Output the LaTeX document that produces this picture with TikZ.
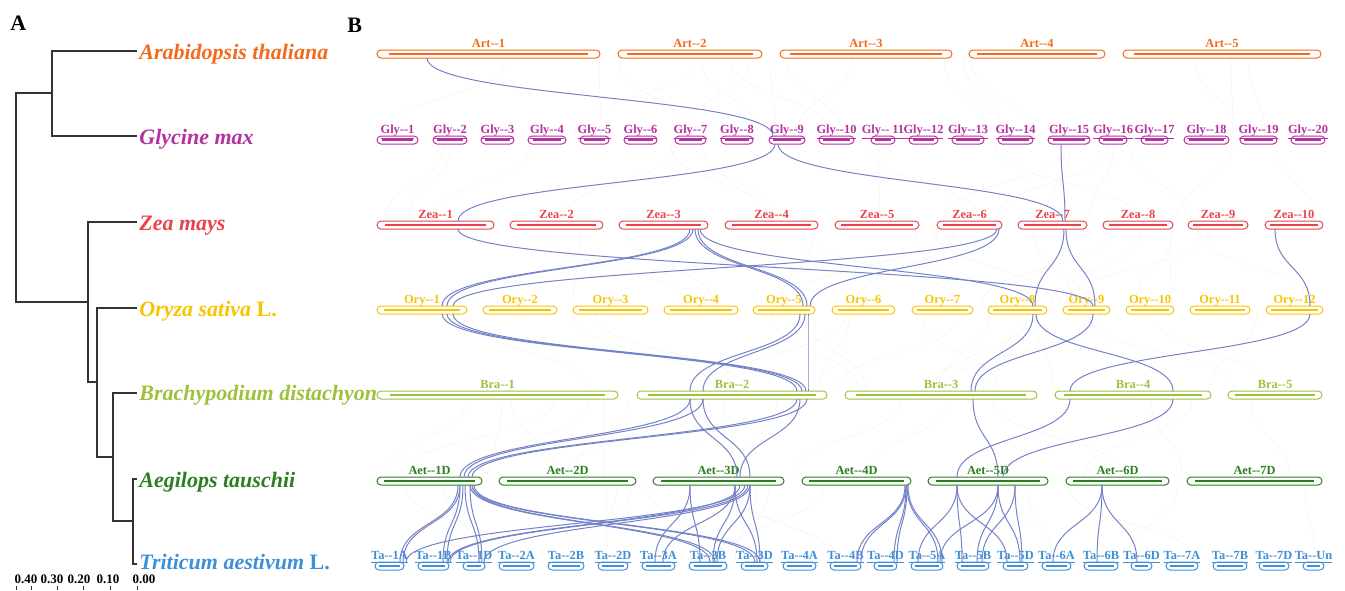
\documentclass[tikz,border=0pt]{standalone}
\usepackage{fontspec}
\setmainfont{Liberation Serif}
\usetikzlibrary{calc,backgrounds}
\definecolor{cart}{HTML}{F26A1B}
\definecolor{cgly}{HTML}{B5319E}
\definecolor{czea}{HTML}{E8424C}
\definecolor{cory}{HTML}{F7C400}
\definecolor{cbra}{HTML}{9CC23D}
\definecolor{caet}{HTML}{2A7F1F}
\definecolor{cta}{HTML}{3D8FD8}
\definecolor{clink}{HTML}{7482C8}
\newcommand\dd{-\kern0pt-}
\newcommand\chr[6]{%
 \pgfmathsetmacro\cw{(#3-#2)*0.5}%
 \pgfmathsetmacro\ci{(3+0.04*(#3-#2))*0.5}%
 \pgfmathsetmacro\cx{(#2+#3)/2}%
 \node[capsule, draw=#5, minimum width=\cw pt] (#1) at (\cx,#4) {};
 \draw[core, draw=#5] ([xshift=\ci pt]#1.west) -- ([xshift=-\ci pt]#1.east);
 \node[chrlab, text=#5] (#1l) at ([yshift=1.5pt]#1.north) {#6};
}
\newcommand\syn[4]{\draw[link] (#2,0 |- #1.south) .. controls +(0,40) and +(0,-40) .. (#4,0 |- #3.north);}
\tikzset{
 capsule/.style={rectangle, rounded corners=2pt, minimum height=4pt, inner sep=0pt, outer sep=0pt, line width=0.5pt},
 core/.style={line width=1.15pt},
 chrlab/.style={anchor=base, inner sep=0pt, font=\fontsize{6.2}{7}\selectfont\bfseries},
 link/.style={line width=0.5pt, draw=clink},
 faint/.style={line width=0.3pt, draw=black!4},
 tree/.style={draw=black!80, line width=0.7pt},
 sp/.style={anchor=base west, inner sep=0pt, font=\fontsize{11}{13}\selectfont\bfseries\itshape},
 panel/.style={anchor=base west, inner sep=0pt, font=\fontsize{11}{13}\selectfont\bfseries},
 scl/.style={anchor=base, inner sep=0pt, font=\fontsize{6.5}{7}\selectfont\bfseries},
}
\begin{document}
\begin{tikzpicture}[x=0.5pt, y=-0.5pt]
\useasboundingbox (0,0) rectangle (1345,590);
% panel letters
\node[panel] (pA) at (10,30) {A};
\node[panel] (pB) at (347,32) {B};
% tree
\draw[tree] (137,51) -- (52,51) -- (52,136) -- (137,136);
\draw[tree] (52,93) -- (16,93) -- (16,302) -- (88,302);
\draw[tree] (137,222) -- (88,222) -- (88,382) -- (97,382);
\draw[tree] (137,308) -- (97,308) -- (97,457) -- (113,457);
\draw[tree] (137,393) -- (113,393) -- (113,521) -- (133,521);
\draw[tree] (137,479) -- (133,479) -- (133,564) -- (137,564);
\node[sp, text=cart] (sArt) at (139,59) {Arabidopsis thaliana};
\node[sp, text=cgly] (sGly) at (139,144) {Glycine max};
\node[sp, text=czea] (sZea) at (139,230) {Zea mays};
\node[sp, text=cory] (sOry) at (139,316) {Oryza sativa \upshape L.};
\node[sp, text=cbra] (sBra) at (139,400) {Brachypodium distachyon};
\node[sp, text=caet] (sAet) at (139,487) {Aegilops tauschii};
\node[sp, text=cta] (sTa) at (139,569) {Triticum aestivum \upshape L.};
% scale
\node[scl] (s40) at (26,583) {0.40};
\node[scl] (s30) at (52,583) {0.30};
\node[scl] (s20) at (79,583) {0.20};
\node[scl] (s10) at (108,583) {0.10};
\node[scl] (s00) at (144,583) {0.00};
\foreach \t in {16,31,57,83,110,137} \draw[black!80, line width=0.4pt] (\t,586) -- (\t,590);
% chromosomes
\chr{art1}{377}{600}{54}{cart}{Art\dd 1}
\chr{art2}{618}{762}{54}{cart}{Art\dd 2}
\chr{art3}{780}{952}{54}{cart}{Art\dd 3}
\chr{art4}{969}{1105}{54}{cart}{Art\dd 4}
\chr{art5}{1123}{1321}{54}{cart}{Art\dd 5}
\chr{gly1}{377}{418}{140}{cgly}{\underline{Gly\dd 1}}
\chr{gly2}{433}{467}{140}{cgly}{\underline{Gly\dd 2}}
\chr{gly3}{481}{514}{140}{cgly}{\underline{Gly\dd 3}}
\chr{gly4}{528}{566}{140}{cgly}{\underline{Gly\dd 4}}
\chr{gly5}{580}{609}{140}{cgly}{\underline{Gly\dd 5}}
\chr{gly6}{624}{657}{140}{cgly}{\underline{Gly\dd 6}}
\chr{gly7}{675}{706}{140}{cgly}{\underline{Gly\dd 7}}
\chr{gly8}{721}{753}{140}{cgly}{\underline{Gly\dd 8}}
\chr{gly9}{769}{805}{140}{cgly}{\underline{Gly\dd 9}}
\chr{gly10}{819}{854}{140}{cgly}{\underline{Gly\dd 10}}
\chr{gly11}{871}{895}{140}{cgly}{\underline{Gly\dd\ 11}}
\chr{gly12}{909}{938}{140}{cgly}{\underline{Gly\dd 12}}
\chr{gly13}{952}{984}{140}{cgly}{\underline{Gly\dd 13}}
\chr{gly14}{998}{1033}{140}{cgly}{\underline{Gly\dd 14}}
\chr{gly15}{1048}{1090}{140}{cgly}{\underline{Gly\dd 15}}
\chr{gly16}{1099}{1127}{140}{cgly}{\underline{Gly\dd 16}}
\chr{gly17}{1141}{1168}{140}{cgly}{\underline{Gly\dd 17}}
\chr{gly18}{1184}{1229}{140}{cgly}{\underline{Gly\dd 18}}
\chr{gly19}{1240}{1277}{140}{cgly}{\underline{Gly\dd 19}}
\chr{gly20}{1291}{1325}{140}{cgly}{\underline{Gly\dd 20}}
\chr{zea1}{377}{494}{225}{czea}{Zea\dd 1}
\chr{zea2}{510}{603}{225}{czea}{Zea\dd 2}
\chr{zea3}{619}{708}{225}{czea}{Zea\dd 3}
\chr{zea4}{725}{818}{225}{czea}{Zea\dd 4}
\chr{zea5}{835}{919}{225}{czea}{Zea\dd 5}
\chr{zea6}{937}{1002}{225}{czea}{Zea\dd 6}
\chr{zea7}{1018}{1087}{225}{czea}{Zea\dd 7}
\chr{zea8}{1103}{1173}{225}{czea}{Zea\dd 8}
\chr{zea9}{1188}{1248}{225}{czea}{Zea\dd 9}
\chr{zea10}{1265}{1323}{225}{czea}{Zea\dd 10}
\chr{ory1}{377}{467}{310}{cory}{Ory\dd 1}
\chr{ory2}{483}{557}{310}{cory}{Ory\dd 2}
\chr{ory3}{573}{648}{310}{cory}{Ory\dd 3}
\chr{ory4}{664}{738}{310}{cory}{Ory\dd 4}
\chr{ory5}{753}{815}{310}{cory}{Ory\dd 5}
\chr{ory6}{832}{895}{310}{cory}{Ory\dd 6}
\chr{ory7}{912}{973}{310}{cory}{Ory\dd 7}
\chr{ory8}{988}{1047}{310}{cory}{Ory\dd 8}
\chr{ory9}{1063}{1110}{310}{cory}{Ory\dd 9}
\chr{ory10}{1126}{1174}{310}{cory}{Ory\dd 10}
\chr{ory11}{1190}{1250}{310}{cory}{Ory\dd 11}
\chr{ory12}{1266}{1323}{310}{cory}{Ory\dd 12}
\chr{bra1}{377}{618}{395}{cbra}{Bra\dd 1}
\chr{bra2}{637}{827}{395}{cbra}{Bra\dd 2}
\chr{bra3}{845}{1037}{395}{cbra}{Bra\dd 3}
\chr{bra4}{1055}{1211}{395}{cbra}{Bra\dd 4}
\chr{bra5}{1228}{1322}{395}{cbra}{Bra\dd 5}
\chr{aet1}{377}{482}{481}{caet}{Aet\dd 1D}
\chr{aet2}{499}{636}{481}{caet}{Aet\dd 2D}
\chr{aet3}{653}{784}{481}{caet}{Aet\dd 3D}
\chr{aet4}{802}{911}{481}{caet}{Aet\dd 4D}
\chr{aet5}{928}{1048}{481}{caet}{Aet\dd 5D}
\chr{aet6}{1066}{1169}{481}{caet}{Aet\dd 6D}
\chr{aet7}{1187}{1322}{481}{caet}{Aet\dd 7D}
\chr{ta1a}{375}{404}{566}{cta}{\underline{Ta\dd 1A}}
\chr{ta1b}{418}{449}{566}{cta}{\underline{Ta\dd 1B}}
\chr{ta1d}{463}{485}{566}{cta}{\underline{Ta\dd 1D}}
\chr{ta2a}{499}{534}{566}{cta}{\underline{Ta\dd 2A}}
\chr{ta2b}{548}{584}{566}{cta}{\underline{Ta\dd 2B}}
\chr{ta2d}{598}{628}{566}{cta}{\underline{Ta\dd 2D}}
\chr{ta3a}{642}{675}{566}{cta}{\underline{Ta\dd 3A}}
\chr{ta3b}{689}{727}{566}{cta}{\underline{Ta\dd 3B}}
\chr{ta3d}{741}{768}{566}{cta}{\underline{Ta\dd 3D}}
\chr{ta4a}{783}{816}{566}{cta}{\underline{Ta\dd 4A}}
\chr{ta4b}{830}{861}{566}{cta}{\underline{Ta\dd 4B}}
\chr{ta4d}{874}{897}{566}{cta}{\underline{Ta\dd 4D}}
\chr{ta5a}{911}{943}{566}{cta}{\underline{Ta\dd 5A}}
\chr{ta5b}{957}{989}{566}{cta}{\underline{Ta\dd 5B}}
\chr{ta5d}{1003}{1028}{566}{cta}{\underline{Ta\dd 5D}}
\chr{ta6a}{1042}{1071}{566}{cta}{\underline{Ta\dd 6A}}
\chr{ta6b}{1084}{1118}{566}{cta}{\underline{Ta\dd 6B}}
\chr{ta6d}{1131}{1152}{566}{cta}{\underline{Ta\dd 6D}}
\chr{ta7a}{1166}{1198}{566}{cta}{\underline{Ta\dd 7A}}
\chr{ta7b}{1213}{1247}{566}{cta}{\underline{Ta\dd 7B}}
\chr{ta7d}{1259}{1289}{566}{cta}{\underline{Ta\dd 7D}}
\chr{taun}{1303}{1324}{566}{cta}{\underline{Ta\dd Un}}
% faint background synteny
\begin{pgfonlayer}{background}
\pgfmathsetseed{12}
\foreach \u/\l in {art1/gly1, gly1/zea1, zea1/ory1, ory1/bra1, bra1/aet1, aet1/ta1a}{
  \foreach \k in {1,...,16}{
    \pgfmathrandominteger{\xa}{385}{1315}
    \pgfmathrandominteger{\dx}{-160}{160}
    \pgfmathsetmacro{\xb}{max(385,min(1315,\xa+\dx))}
    \draw[faint] (\xa,0 |- \u.south) .. controls +(0,40) and +(0,-40) .. (\xb,0 |- \l.north);
  }
}
\end{pgfonlayer}
% links Art-Gly
\syn{art1}{427}{gly9}{773}
% Gly-Zea
\syn{gly9}{775}{zea1}{458}
\syn{gly9}{778}{zea7}{1063}
\syn{gly15}{1061}{zea7}{1065}
% Zea-Ory
\syn{zea1}{458}{ory9}{1093}
\syn{zea3}{690}{ory1}{442}
\syn{zea3}{693}{ory1}{447}
\syn{zea3}{695}{ory5}{803}
\syn{zea3}{698}{ory5}{807}
\syn{zea3}{700}{ory8}{1033}
\syn{zea6}{997}{ory1}{453}
\syn{zea6}{999}{ory5}{810}
\syn{zea7}{1064}{ory8}{1035}
\syn{zea7}{1066}{ory9}{1095}
\syn{zea10}{1275}{ory12}{1310}
% Ory-Bra
\syn{ory1}{442}{bra2}{797}
\syn{ory1}{447}{bra2}{802}
\syn{ory1}{453}{bra2}{806}
\syn{ory5}{800}{bra2}{690}
\syn{ory5}{805}{bra2}{703}
\syn{ory5}{808}{bra2}{808}
\syn{ory8}{1033}{bra3}{971}
\syn{ory9}{1093}{bra3}{975}
\syn{ory8}{1036}{bra4}{1173}
\syn{ory12}{1310}{bra4}{1070}
% Bra-Aet
\syn{bra2}{690}{aet1}{460}
\syn{bra2}{703}{aet1}{464}
\syn{bra2}{690}{aet3}{737}
\syn{bra2}{703}{aet3}{750}
\syn{bra2}{797}{aet1}{468}
\syn{bra2}{807}{aet1}{472}
\syn{bra2}{800}{aet3}{740}
\syn{bra3}{973}{aet5}{998}
\syn{bra4}{1070}{aet5}{957}
\syn{bra4}{1173}{aet5}{1003}
% Aet-Ta
\syn{aet1}{458}{ta1a}{400}
\syn{aet1}{460}{ta1a}{403}
\syn{aet1}{460}{ta1b}{443}
\syn{aet1}{463}{ta1b}{447}
\syn{aet1}{465}{ta1d}{479}
\syn{aet1}{470}{ta1d}{482}
\syn{aet1}{470}{ta3b}{710}
\syn{aet1}{472}{ta3b}{715}
\syn{aet1}{472}{ta3d}{755}
\syn{aet1}{474}{ta3d}{760}
\syn{aet3}{745}{ta1a}{406}
\syn{aet3}{740}{ta1b}{448}
\syn{aet3}{748}{ta1b}{450}
\syn{aet3}{750}{ta1d}{484}
\syn{aet3}{690}{ta3a}{655}
\syn{aet3}{735}{ta3a}{663}
\syn{aet3}{690}{ta3b}{700}
\syn{aet3}{735}{ta3b}{713}
\syn{aet3}{750}{ta3b}{717}
\syn{aet3}{735}{ta3d}{757}
\syn{aet3}{750}{ta3d}{760}
\syn{aet4}{905}{ta4b}{857}
\syn{aet4}{906}{ta4b}{861}
\syn{aet4}{906}{ta4d}{894}
\syn{aet4}{907}{ta4d}{897}
\syn{aet4}{907}{ta5a}{938}
\syn{aet4}{908}{ta5a}{942}
\syn{aet5}{957}{ta5a}{918}
\syn{aet5}{957}{ta5b}{962}
\syn{aet5}{957}{ta5d}{1007}
\syn{aet5}{998}{ta5a}{940}
\syn{aet5}{998}{ta5b}{977}
\syn{aet5}{998}{ta5d}{1020}
\syn{aet5}{1015}{ta5b}{982}
\syn{aet5}{1015}{ta5d}{1022}
\syn{aet6}{1102}{ta6a}{1053}
\syn{aet6}{1102}{ta6b}{1097}
\syn{aet6}{1102}{ta6d}{1137}
\end{tikzpicture}
\end{document}
